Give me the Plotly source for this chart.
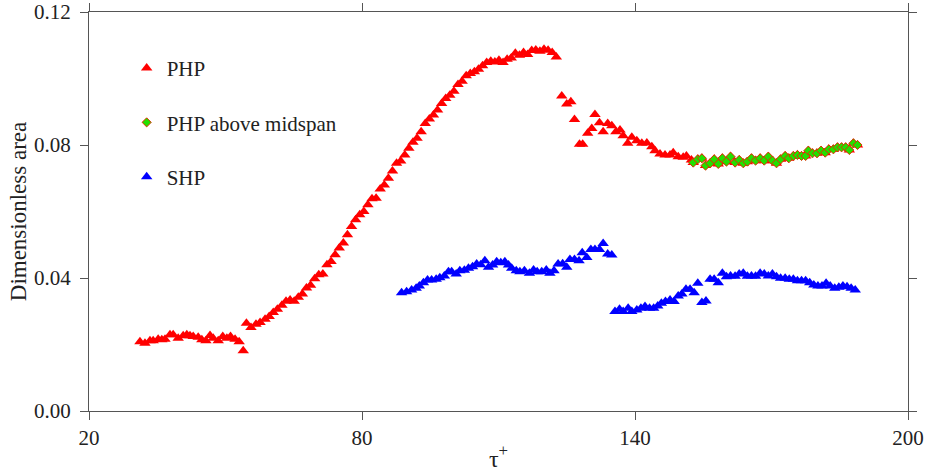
import plotly.graph_objects as go

# PHP (red triangles), part before the "above midspan" stretch
php_tau = [31.2, 32.3, 33.4, 34.1, 35.2, 36.0, 36.7, 37.8, 38.5, 39.6, 40.7, 41.5, 42.2, 42.9,
           44.0, 44.8, 45.7, 46.6, 47.3, 48.4, 49.4, 50.3, 51.1, 52.1, 53.0, 53.9,
           54.6, 55.6, 56.7, 57.6, 58.7, 59.6, 60.5, 61.4, 62.4, 63.3, 64.2, 65.1, 66.0, 66.9,
           67.8, 68.7, 69.6, 70.5, 71.4, 72.3, 73.2, 74.1, 75.0, 75.9, 76.8, 77.7, 78.6, 79.5,
           80.4, 81.3, 82.2, 83.1, 84.0, 84.9, 85.8, 86.7, 87.6, 88.5, 89.4, 90.3, 91.2, 92.1,
           93.0, 93.9, 94.8, 95.7, 96.6, 97.5, 98.4, 99.3, 100.2, 101.1, 102.0, 102.9, 103.8,
           104.7, 105.6, 106.5, 107.4, 108.3, 109.2, 110.1, 111.0, 111.9, 112.8, 113.7, 114.6,
           115.5, 116.4, 117.3, 118.2, 119.1, 120.0, 120.9, 121.8, 122.7,
           123.9, 125.0, 125.9, 126.7, 127.8, 128.5, 129.6, 130.5, 131.2, 132.2, 133.0, 134.0,
           134.9, 135.8, 136.7, 137.4, 138.4, 139.3, 140.4, 141.5, 142.6, 143.7, 144.4, 145.5,
           146.6, 147.7, 148.4, 149.5, 150.6, 151.3, 152.4]
php_val = [0.0208, 0.0204, 0.0211, 0.0211, 0.0216, 0.0214, 0.0216, 0.0229, 0.0229, 0.0219, 0.0226,
           0.0229, 0.0226, 0.0224, 0.0222, 0.0214, 0.0211, 0.0227, 0.0219, 0.0211, 0.0224, 0.0219,
           0.0224, 0.0216, 0.0208, 0.0181,
           0.0264, 0.0251, 0.0261, 0.0266, 0.0276, 0.0284, 0.0296, 0.0306, 0.0318, 0.0330, 0.0334,
           0.0330, 0.0342, 0.0352, 0.0370, 0.0378, 0.0398, 0.0410, 0.0412, 0.0440, 0.0450, 0.0470,
           0.0490, 0.0505, 0.0530, 0.0555, 0.0575, 0.0590, 0.0600, 0.0620, 0.0638, 0.0640, 0.0668,
           0.0680, 0.0700, 0.0722, 0.0745, 0.0752, 0.0770, 0.0790, 0.0808, 0.0820, 0.0840, 0.0865,
           0.0878, 0.0890, 0.0905, 0.0925, 0.0940, 0.0950, 0.0962, 0.0982, 0.0992, 0.1008, 0.1015,
           0.1020, 0.1028, 0.1038, 0.1048, 0.1052, 0.1050, 0.1055, 0.1048, 0.1058, 0.1062, 0.1076,
           0.1070, 0.1078, 0.1072, 0.1084, 0.1086, 0.1082, 0.1088, 0.1085, 0.1078, 0.1065,
           0.0947, 0.0923, 0.0930, 0.0877, 0.0802, 0.0802, 0.0835, 0.0850, 0.0892, 0.0867, 0.0840,
           0.0865, 0.0858, 0.0840, 0.0845, 0.0828, 0.0805, 0.0823, 0.0813, 0.0805, 0.0806, 0.0795,
           0.0783, 0.0773, 0.0770, 0.0770, 0.0777, 0.0765, 0.0763, 0.0767, 0.0755]

# PHP above midspan (green diamonds, drawn over red triangles)
above_tau = [152.8, 153.8, 154.7, 155.5, 156.5, 157.4, 158.3, 159.2, 160.1, 161.0, 162.0, 162.9,
             163.8, 164.7, 165.6, 166.5, 167.5, 168.4, 169.3, 170.2, 171.1, 172.0, 173.0, 173.8,
             174.8, 175.7, 176.6, 177.5, 178.1, 179.0, 180.0, 180.9, 181.8, 182.6, 183.6, 184.5,
             185.4, 186.3, 187.1, 188.0, 188.9]
above_val = [0.0747, 0.0757, 0.0760, 0.0738, 0.0745, 0.0757, 0.0743, 0.0760, 0.0750, 0.0765,
             0.0747, 0.0755, 0.0745, 0.0750, 0.0760, 0.0753, 0.0760, 0.0753, 0.0765, 0.0753,
             0.0745, 0.0757, 0.0767, 0.0760, 0.0767, 0.0770, 0.0767, 0.0767, 0.0783, 0.0775,
             0.0775, 0.0783, 0.0777, 0.0787, 0.0787, 0.0793, 0.0793, 0.0793, 0.0785, 0.0805,
             0.0800]

# SHP (blue triangles)
shp_tau = [88.7, 89.8, 90.9, 91.9, 92.6, 93.5, 94.4, 95.3, 96.3, 97.1, 98.1, 99.0, 99.7, 100.7,
           101.5, 102.5, 103.4, 104.3, 105.2, 106.1, 107.0, 107.8, 108.7, 109.6, 110.5, 111.4,
           112.2, 112.9, 113.9, 114.7, 115.7, 116.8, 117.7, 118.5, 119.5, 120.5, 121.3, 122.2,
           123.1, 124.1, 125.0, 125.7, 126.7, 127.7, 128.4, 129.4, 130.3, 131.2, 132.2, 133.0,
           134.0, 134.9,
           135.6, 136.6, 137.4, 138.5, 139.3, 140.4, 141.3, 142.2, 143.2, 144.1, 145.0, 145.8,
           146.7, 147.7, 148.6, 149.5, 150.3, 151.2, 152.1, 153.0, 153.8, 154.7, 155.6, 156.5,
           157.4, 158.3, 159.2, 160.1, 161.0, 162.0, 162.9, 163.8, 164.7, 165.6, 166.5, 167.5,
           168.4, 169.3, 170.2, 171.1, 172.0, 173.0, 173.9, 174.8, 175.7, 176.6, 177.5, 178.4,
           179.3, 180.2, 181.1, 182.0, 182.9, 183.9, 184.8, 185.7, 186.6, 187.5, 188.4]
shp_val = [0.0356, 0.0359, 0.0364, 0.0369, 0.0376, 0.0386, 0.0394, 0.0394, 0.0396, 0.0401, 0.0406,
           0.0419, 0.0419, 0.0412, 0.0422, 0.0423, 0.0429, 0.0434, 0.0442, 0.0440, 0.0452, 0.0432,
           0.0439, 0.0449, 0.0446, 0.0449, 0.0439, 0.0429, 0.0422, 0.0419, 0.0422, 0.0414, 0.0424,
           0.0419, 0.0419, 0.0424, 0.0414, 0.0422, 0.0442, 0.0443, 0.0432, 0.0456, 0.0456, 0.0452,
           0.0476, 0.0462, 0.0486, 0.0486, 0.0486, 0.0504, 0.0472, 0.0469,
           0.0299, 0.0306, 0.0299, 0.0309, 0.0299, 0.0304, 0.0309, 0.0314, 0.0309, 0.0309, 0.0316,
           0.0324, 0.0329, 0.0334, 0.0329, 0.0346, 0.0352, 0.0366, 0.0366, 0.0356, 0.0384, 0.0326,
           0.0331, 0.0396, 0.0396, 0.0386, 0.0414, 0.0404, 0.0406, 0.0405, 0.0412, 0.0414, 0.0405,
           0.0406, 0.0405, 0.0414, 0.0412, 0.0406, 0.0412, 0.0404, 0.0399, 0.0399, 0.0396, 0.0396,
           0.0392, 0.0392, 0.0392, 0.0386, 0.0379, 0.0376, 0.0376, 0.0384, 0.0376, 0.0369, 0.0372,
           0.0376, 0.0374, 0.0369, 0.0364]

x_ticks = [20, 80, 140, 200]
y_ticks = [0.00, 0.04, 0.08, 0.12]

FONT = "Liberation Serif"

fig = go.Figure()
fig.add_trace(go.Scatter(
    x=php_tau + above_tau, y=php_val + above_val, mode="markers", name="PHP",
    legendgroup="a",
    marker=dict(symbol="triangle-up", size=10, color="#ff0000", line=dict(width=0))))
fig.add_trace(go.Scatter(
    x=above_tau, y=above_val, mode="markers", name="PHP above midspan",
    legendgroup="b",
    marker=dict(symbol="diamond", size=7, color="#22e000", line=dict(width=1, color="#e03000"))))
fig.add_trace(go.Scatter(
    x=shp_tau, y=shp_val, mode="markers", name="SHP",
    legendgroup="c",
    marker=dict(symbol="triangle-up", size=10, color="#0000ff", line=dict(width=0))))

axis_common = dict(showline=True, linecolor="#555555", linewidth=1, mirror="ticks",
                   ticks="outside", ticklen=8, tickcolor="#555555", showgrid=False,
                   zeroline=False, automargin=False, ticklabeloverflow="allow",
                   tickfont=dict(family=FONT, size=21, color="#222222"))

fig.update_layout(
    width=932, height=473,
    margin=dict(l=89, r=24, t=12, b=62),
    paper_bgcolor="white", plot_bgcolor="white",
    font=dict(family=FONT, color="#222222"),
    showlegend=True,
    legend=dict(x=0.046, y=0.91, xanchor="left", yanchor="top", bgcolor="rgba(0,0,0,0)",
                font=dict(family=FONT, size=21, color="#222222"), tracegroupgap=24,
                itemwidth=30),
    xaxis=dict(range=[20, 200], tickvals=x_ticks, ticktext=[str(v) for v in x_ticks],
               title=dict(text="τ<sup>+</sup>", font=dict(family=FONT, size=24), standoff=0),
               **axis_common),
    yaxis=dict(range=[0, 0.12], tickvals=y_ticks, ticktext=[f"{v:.2f}" for v in y_ticks],
               ticklabelstandoff=5,
               title=dict(text="Dimensionless area", font=dict(family=FONT, size=23), standoff=0),
               **axis_common),
)

# remove the default 8px page margin so the figure sits at the window's corner
fig.write_html("out.html", config={"displayModeBar": False},
               post_script="document.body.style.margin='0px';document.body.style.overflow='hidden';")
